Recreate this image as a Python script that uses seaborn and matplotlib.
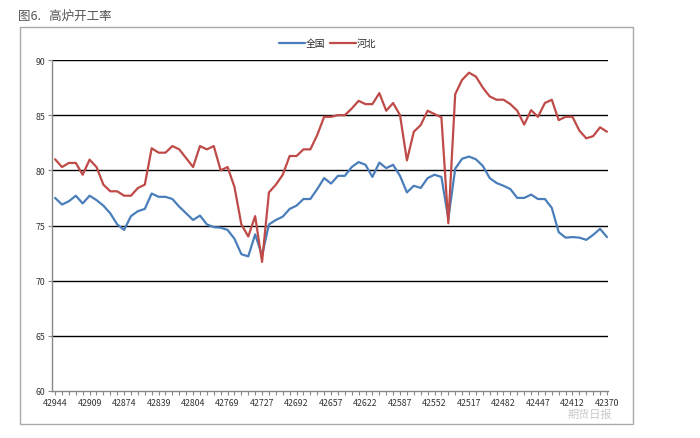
import pandas as pd
import seaborn as sns
import matplotlib.pyplot as plt
from matplotlib.patches import Rectangle

sns.set_theme(style="white")
plt.rcParams['font.family'] = ['Noto Sans CJK SC', 'DejaVu Sans']

# x 轴标签（Excel 日期序号，每 5 周一个）
tick_labels = ["42944", "42909", "42874", "42839", "42804", "42769", "42727",
               "42692", "42657", "42622", "42587", "42552", "42517", "42482",
               "42447", "42412", "42370"]

quanguo = [77.5, 76.9, 77.2, 77.7, 77.0, 77.7, 77.3, 76.8, 76.1, 75.1,
           74.6, 75.85, 76.3, 76.5, 77.9, 77.6, 77.6, 77.4, 76.7, 76.1,
           75.5, 75.9, 75.1, 74.85, 74.8, 74.6, 73.8, 72.4, 72.2, 74.2,
           72.3, 75.1, 75.5, 75.8, 76.5, 76.8, 77.4, 77.4, 78.3, 79.3,
           78.8, 79.5, 79.5, 80.3, 80.75, 80.5, 79.4, 80.7, 80.2, 80.5,
           79.5, 78.0, 78.6, 78.4, 79.3, 79.6, 79.4, 75.6, 80.15, 81.05,
           81.25, 81.0, 80.4, 79.3, 78.85, 78.6, 78.3, 77.5, 77.5, 77.8,
           77.4, 77.4, 76.6, 74.4, 73.9, 73.95, 73.9, 73.7, 74.15, 74.7,
           73.95]

hebei = [81.0, 80.3, 80.67, 80.67, 79.6, 80.97, 80.3, 78.7, 78.1, 78.1,
         77.7, 77.7, 78.4, 78.7, 82.0, 81.6, 81.6, 82.2, 81.9, 81.1,
         80.3, 82.2, 81.9, 82.2, 80.0, 80.3, 78.5, 75.1, 74.0, 75.85,
         71.7, 78.0, 78.7, 79.6, 81.3, 81.3, 81.9, 81.9, 83.2, 84.85,
         84.85, 85.0, 85.0, 85.6, 86.3, 86.0, 86.0, 87.0, 85.4, 86.1,
         85.0, 80.9, 83.5, 84.1, 85.4, 85.1, 84.8, 75.2, 86.9, 88.2,
         88.85, 88.5, 87.5, 86.7, 86.4, 86.4, 86.0, 85.4, 84.15, 85.45,
         84.85, 86.1, 86.4, 84.55, 84.85, 84.85, 83.6, 82.9, 83.1, 83.9,
         83.5]

n = len(quanguo)
df = pd.DataFrame({
    "idx": list(range(n)) * 2,
    "value": quanguo + hebei,
    "series": ["全国"] * n + ["河北"] * n,
})

fig = plt.figure(figsize=(7, 4.39), dpi=100)
ax = fig.add_axes([52 / 700, 1 - 392 / 439, 556 / 700, 331 / 439])

sns.lineplot(data=df, x="idx", y="value", hue="series", ax=ax,
             palette={"全国": "#4a7ebb", "河北": "#be4b48"}, linewidth=1.6,
             legend=False)

ax.set_xlim(-0.45, n - 1 + 0.15)
ax.set_ylim(60, 90)
ax.set_yticks(range(60, 91, 5))
ax.set_xticks(range(0, n, 5))
ax.set_xticklabels(tick_labels)
ax.set_xticks(range(n), minor=True)
ax.tick_params(axis="both", which="both", direction="out", length=3,
               width=0.8, color="#888888", labelsize=6.3, labelcolor="#333333",
               pad=2)
ax.tick_params(axis="x", which="both", bottom=True)
ax.tick_params(axis="y", left=True)
ax.set_xlabel("")
ax.set_ylabel("")

for v in range(65, 91, 5):
    ax.axhline(v, color="black", linewidth=1.0, zorder=0)

for side in ["top", "right"]:
    ax.spines[side].set_visible(False)
for side in ["left", "bottom"]:
    ax.spines[side].set_color("#888888")
    ax.spines[side].set_linewidth(1.0)

# 图例
h1, = ax.plot([], [], color="#4a7ebb", linewidth=1.6, label="全国")
h2, = ax.plot([], [], color="#be4b48", linewidth=1.6, label="河北")
fig.legend(handles=[h1, h2], loc="center", bbox_to_anchor=(328 / 700, 1 - 44 / 439),
           ncol=2, frameon=False, fontsize=7, handlelength=2.6,
           handletextpad=0.15, columnspacing=0.5)

# 外框与标题
fig.patches.append(Rectangle((20 / 700, 1 - 425 / 439), 613 / 700, 397 / 439,
                             transform=fig.transFigure, fill=False,
                             edgecolor="#aaaaaa", linewidth=1.0))
fig.text(18 / 700, 1 - 16 / 439, "图6.   高炉开工率", fontsize=9,
         color="#555555", va="center", ha="left")
fig.text(590 / 700, 1 - 415 / 439, "期货日报", fontsize=8, color="#bbbbbb",
         va="center", ha="center", alpha=0.8)

fig.savefig("out.png", dpi=100)
